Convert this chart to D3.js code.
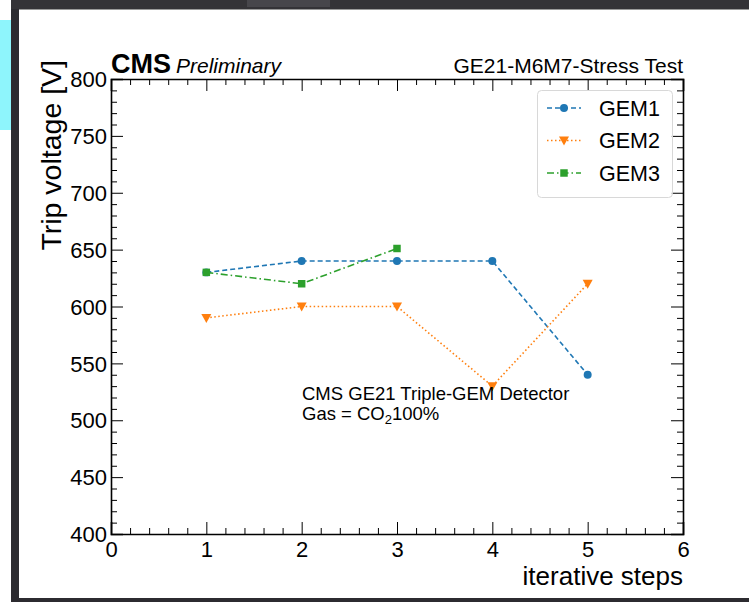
<!DOCTYPE html>
<html>
<head>
<meta charset="utf-8">
<script src="https://cdn.jsdelivr.net/npm/d3@7"></script>
<style>
  body { margin: 0; background: #fff; }
  svg { display: block; font-family: "Liberation Sans", Arial, sans-serif; }
</style>
</head>
<body>
<div id="chart"></div>
<script>
// data
const steps = [1, 2, 3, 4, 5];
const gem1 = [630, 640, 640, 640, 540];
const gem2 = [590, 600, 600, 530, 620];
const gem3Steps = [1, 2, 3];
const gem3 = [630, 620, 651];
const xTicks = [0, 1, 2, 3, 4, 5, 6];
const yTicks = [400, 450, 500, 550, 600, 650, 700, 750, 800];

const series = [
    { name: "GEM1", xs: steps, ys: gem1, color: "#1f77b4", dash: "5,3", marker: "circle" },
    { name: "GEM2", xs: steps, ys: gem2, color: "#ff7f0e", dash: "1.5,2.5", marker: "triangle" },
    { name: "GEM3", xs: gem3Steps, ys: gem3, color: "#2ca02c", dash: "7,3,1.5,3", marker: "square" }
];

const width = 749, height = 602;
const plot = { left: 111, right: 683, top: 79, bottom: 534 };

const svg = d3.select("#chart").append("svg")
    .attr("width", width)
    .attr("height", height);

// screenshot frame around the figure
svg.append("rect").attr("x", 0).attr("y", 0).attr("width", width).attr("height", 9).attr("fill", "#343337");
svg.append("rect").attr("x", 247).attr("y", 0).attr("width", 83).attr("height", 7).attr("fill", "#47464b");
svg.append("rect").attr("x", 0).attr("y", 0).attr("width", 11).attr("height", 20).attr("fill", "#fff");
svg.append("rect").attr("x", 0).attr("y", 20).attr("width", 11).attr("height", 110).attr("fill", "#8ef5fc");
svg.append("rect").attr("x", 11).attr("y", 9).attr("width", 8).attr("height", 593).attr("fill", "#2c2b30");
svg.append("rect").attr("x", 11).attr("y", 598).attr("width", width - 11).attr("height", 4).attr("fill", "#2c2b30");
svg.append("line").attr("x1", 19).attr("x2", width).attr("y1", 9.5).attr("y2", 9.5).attr("stroke", "#9a9a9a");

const x = d3.scaleLinear().domain([0, 6]).range([plot.left, plot.right]);
const y = d3.scaleLinear().domain([400, 800]).range([plot.bottom, plot.top]);

const xMinor = d3.range(0, 6.0001, 0.2).filter(v => Math.abs(v - Math.round(v)) > 1e-6);
const yMinor = d3.range(400, 800, 10).filter(v => v % 50 !== 0);

// inward ticks on all four sides
function ticks(axisFn, scale, major, minor, transform) {
    svg.append("g").attr("transform", transform)
        .call(axisFn(scale).tickValues(minor).tickSize(-6).tickFormat(""))
        .call(g => g.select(".domain").remove());
    return svg.append("g").attr("transform", transform)
        .call(axisFn(scale).tickValues(major).tickSize(-12).tickPadding(4).tickFormat(d3.format("d")));
}

const xAxis = ticks(d3.axisBottom, x, xTicks, xMinor, `translate(0,${plot.bottom})`);
xAxis.selectAll("text").attr("font-size", 22).attr("y", 4).attr("dy", "0.85em").attr("fill", "#000");
const xTop = ticks(d3.axisTop, x, xTicks, xMinor, `translate(0,${plot.top})`);
xTop.selectAll("text").remove();
const yAxis = ticks(d3.axisLeft, y, yTicks, yMinor, `translate(${plot.left},0)`);
yAxis.selectAll("text").attr("font-size", 22).attr("fill", "#000").attr("x", -4).attr("dy", "0.35em");
const yRight = ticks(d3.axisRight, y, yTicks, yMinor, `translate(${plot.right},0)`);
yRight.selectAll("text").remove();

svg.selectAll(".tick line").attr("stroke", "#000").attr("stroke-width", 1);
svg.selectAll(".domain").attr("stroke", "#000").attr("stroke-width", 1.6);

// series
const line = d3.line();
const symbols = { circle: d3.symbolCircle, triangle: d3.symbolTriangle, square: d3.symbolSquare };

function marker(g, type, color, cx, cy) {
    if (type === "triangle") {
        g.append("path")
            .attr("d", "M-5,-4L5,-4L0,5Z")
            .attr("transform", `translate(${cx},${cy})`)
            .attr("fill", color);
    } else {
        g.append("path")
            .attr("d", d3.symbol(symbols[type], type === "circle" ? 50 : 56)())
            .attr("transform", `translate(${cx},${cy})`)
            .attr("fill", color);
    }
}

series.forEach(s => {
    const pts = s.xs.map((v, i) => [x(v), y(s.ys[i])]);
    const g = svg.append("g");
    g.append("path")
        .attr("d", line(pts))
        .attr("fill", "none")
        .attr("stroke", s.color)
        .attr("stroke-width", 1.6)
        .attr("stroke-dasharray", s.dash);
    pts.forEach(p => marker(g, s.marker, s.color, p[0], p[1]));
});

// legend
const legend = svg.append("g");
legend.append("rect")
    .attr("x", 537.5).attr("y", 90.5).attr("width", 135).attr("height", 107)
    .attr("rx", 4).attr("fill", "#fff").attr("fill-opacity", 0.8)
    .attr("stroke", "#d8d8d8");
series.forEach((s, i) => {
    const ly = 108 + i * 32.5;
    legend.append("line")
        .attr("x1", 547).attr("x2", 581).attr("y1", ly).attr("y2", ly)
        .attr("stroke", s.color).attr("stroke-width", 1.6)
        .attr("stroke-dasharray", s.dash);
    marker(legend, s.marker, s.color, 564, ly);
    legend.append("text")
        .attr("x", 599).attr("y", ly).attr("dy", "0.36em")
        .attr("font-size", 21.5).text(s.name);
});

// labels
svg.append("text").attr("x", plot.left).attr("y", 73)
    .attr("font-size", 27).attr("font-weight", "bold").text("CMS");
svg.append("text").attr("x", 176).attr("y", 73)
    .attr("font-size", 21).attr("font-style", "italic").text("Preliminary");
svg.append("text").attr("x", plot.right).attr("y", 73)
    .attr("text-anchor", "end").attr("font-size", 21).text("GE21-M6M7-Stress Test");
svg.append("text")
    .attr("transform", `translate(61,${plot.top - 19}) rotate(-90)`)
    .attr("text-anchor", "end").attr("font-size", 28.5).text("Trip voltage [V]");
svg.append("text").attr("x", plot.right).attr("y", 585)
    .attr("text-anchor", "end").attr("font-size", 26).text("iterative steps");

const note = svg.append("g").attr("font-size", 18.5);
note.append("text").attr("x", 302).attr("y", 400).text("CMS GE21 Triple-GEM Detector");
const gas = note.append("text").attr("x", 302).attr("y", 420);
gas.append("tspan").text("Gas = CO");
gas.append("tspan").attr("font-size", 13).attr("dy", 4).text("2");
gas.append("tspan").attr("dy", -4).text("100%");
</script>
</body>
</html>
